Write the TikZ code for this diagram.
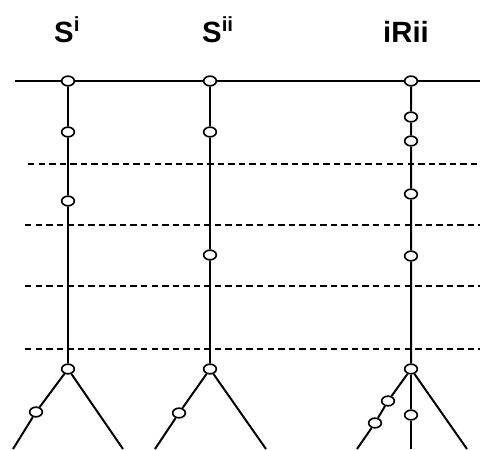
\documentclass[tikz,border=0pt]{standalone}
\usepackage{fontspec}
\setmainfont{Liberation Sans}
\usetikzlibrary{positioning,shapes.geometric}

\begin{document}
\begin{tikzpicture}[x=0.03cm,y=-0.03cm,
  tick/.style={ellipse, draw, fill=white, line width=1.4pt, inner sep=0pt, minimum width=0.38cm, minimum height=0.29cm},
  stem/.style={line width=1.7pt},
  level/.style={dash pattern=on 5.5pt off 3.5pt, line width=0.9pt},
  head/.style={anchor=base west, inner sep=0pt, font=\fontsize{25}{30}\selectfont\bfseries}]
\useasboundingbox (0,0) rectangle (480,449);
% column titles
\node[head] (ti) at (54,42) {S\textsuperscript{i}};
\node[head] (tii) at (202,42) {S\textsuperscript{ii}};
\node[head] (tr) at (383,42) {iRii};
% dashed levels
\draw[level] (28,164) -- (480,164);
\draw[level] (25,225) -- (480,225);
\draw[level] (25,286) -- (480,286);
\draw[level] (25,349) -- (480,349);
% free ends
\coordinate (west) at (15,81);
\coordinate (east) at (480,81);
\coordinate (aL) at (13,449);
\coordinate (aR) at (123,449);
\coordinate (bL) at (155,449);
\coordinate (bR) at (266,449);
\coordinate (cL) at (357,449);
\coordinate (cM) at (411,449);
\coordinate (cR) at (467,449);
% first column
\node[tick] (a0) at (68,81) {};
\node[tick] (a1) at (68,132) {};
\node[tick] (a2) at (68,201) {};
\node[tick] (a3) at (68,369) {};
\node[tick] (a4) at (36,412) {};
% second column
\node[tick] (b0) at (210,81) {};
\node[tick] (b1) at (210,132) {};
\node[tick] (b2) at (210,255) {};
\node[tick] (b3) at (210,369) {};
\node[tick] (b4) at (179,413) {};
% third column
\node[tick] (c0) at (411,81) {};
\node[tick] (c1) at (411,117) {};
\node[tick] (c2) at (411,141) {};
\node[tick] (c3) at (411,194) {};
\node[tick] (c4) at (411,256) {};
\node[tick] (c5) at (411,369) {};
\node[tick] (c6) at (388,401) {};
\node[tick] (c7) at (375,423) {};
\node[tick] (c8) at (411,415) {};
% connectors
\draw[stem] (west) -- (a0) -- (b0) -- (c0) -- (east);
\draw[stem] (a0) -- (a1) -- (a2) -- (a3) -- (a4) -- (aL);
\draw[stem] (a3) -- (aR);
\draw[stem] (b0) -- (b1) -- (b2) -- (b3) -- (b4) -- (bL);
\draw[stem] (b3) -- (bR);
\draw[stem] (c0) -- (c1) -- (c2) -- (c3) -- (c4) -- (c5) -- (c6) -- (c7) -- (cL);
\draw[stem] (c5) -- (c8) -- (cM);
\draw[stem] (c5) -- (cR);
\end{tikzpicture}
\end{document}
